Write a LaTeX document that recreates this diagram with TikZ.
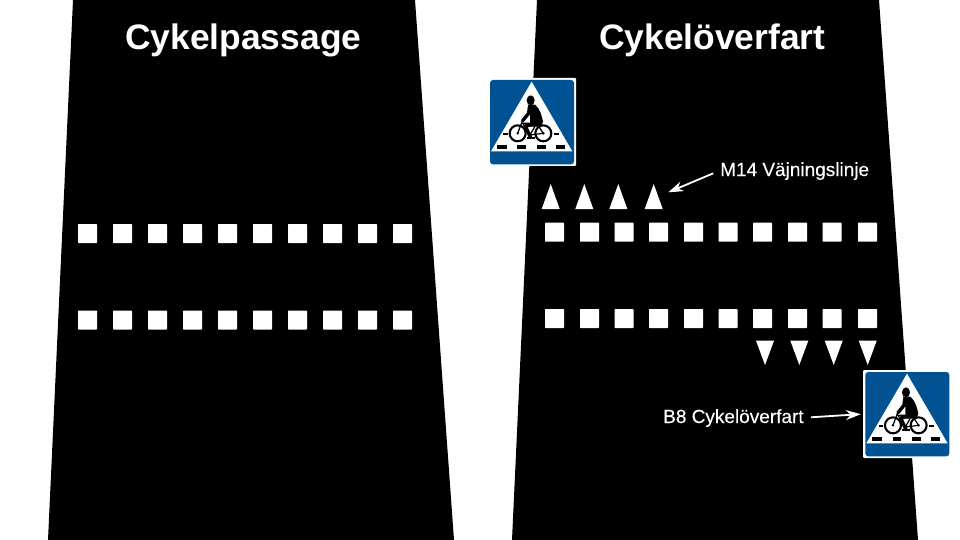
\documentclass[tikz,border=0pt]{standalone}
\usepackage{fontspec}
\setmainfont{Liberation Sans}
\newfontfamily\labelfont[FakeBold=0.25]{Liberation Sans}
\usetikzlibrary{arrows.meta}
\definecolor{signblue}{RGB}{0,82,147}
\tikzset{
  road/.style={fill=black,draw=none},
  stud/.style={fill=white,draw=none,rounded corners=0.6pt},
  tooth/.style={fill=white,draw=none},
  titletext/.style={text=white,font=\bfseries\fontsize{35.4}{36}\selectfont,anchor=base west,inner sep=0pt},
  labeltext/.style={text=white,font=\labelfont\fontsize{19}{19}\selectfont,anchor=base west,inner sep=0pt},
  pointer/.style={draw=white,line width=1.8pt,-{Stealth[length=15pt,width=10pt]}},
  signbox/.style={fill=white,draw=none,minimum width=88pt,minimum height=88pt,inner sep=0pt,rounded corners=1pt},
  signface/.style={fill=signblue,draw=none,rounded corners=3pt},
  signtri/.style={fill=white,draw=none},
  signdash/.style={fill=black,draw=none},
  wheel/.style={draw=black,line width=2.1pt,fill=none},
  frametube/.style={draw=black,line width=1.2pt},
  limb/.style={draw=black,line width=3.4pt,line cap=round,line join=round,fill=none},
}
\newcommand{\cyclesign}[2]{%
  \begin{scope}[shift={(#1,#2)},x=0.33333pt,y=-0.33333pt]
    \path[signface] (30,30) rectangle (282,283);
    \path[signtri] (155,35) -- (277,244) -- (33,244) -- cycle;
    \foreach \xa/\xb in {50/80,112/138,170/197,228/255}
      \path[signdash] (\xa,226) rectangle (\xb,236);
    \foreach \xa/\xb in {70/84,222/236}
      \path[signdash] (\xa,189) rectangle (\xb,195);
    \draw[wheel] (113,190) circle (24);
    \draw[wheel] (190,190) circle (24);
    \fill[black] (113,190) circle (4);
    \fill[black] (190,190) circle (4);
    \draw[frametube] (113,190) -- (128,150) (128,160) -- (150,195) -- (190,190) -- (170,160) -- cycle (150,195) -- (170,160);
    \fill[black] (152,91) ellipse (12 and 15);
    \fill[black] (143,104) -- (165,104) .. controls (180,115) and (186,140) .. (189,155) -- (184,170) -- (150,170) -- (150,135) -- cycle;
    \draw[limb] (148,112) -- (146,130) -- (128,152);
    \draw[limb] (172,160) -- (136,168) -- (152,203);
    \path[signdash] (140,202) rectangle (164,208);
  \end{scope}}
\begin{document}
\begin{tikzpicture}[x=1pt,y=-1pt]
  \useasboundingbox (0,0) rectangle (960,540);
  \fill[white] (0,0) rectangle (960,540);
  \path[road] (73,0) -- (415,0) -- (454,540) -- (48,540) -- cycle;
  \path[road] (537,0) -- (879,0) -- (918,540) -- (512,540) -- cycle;
  % left studs
  \foreach \x in {78,113,148,183,218,253,288,323,358,393}{
    \path[stud] (\x,224) rectangle ++(19,19);
    \path[stud] (\x,310.5) rectangle ++(19,19);
  }
  % right studs
  \foreach \x in {545,580,614.5,649,684,718.5,753,788,822.5,858}{
    \path[stud] (\x,222.7) rectangle ++(19,19);
    \path[stud] (\x,309) rectangle ++(19,19);
  }
  % give-way teeth
  \foreach \x in {550.7,584.3,618.3,653.7}
    \path[tooth] (\x,184) -- (\x+9,209) -- (\x-9,209) -- cycle;
  \foreach \x in {765,799.3,833.7,867.7}
    \path[tooth] (\x-9,340.7) -- (\x+9,340.7) -- (\x,365) -- cycle;
  % titles
  \node[titletext] (title1) at (125,50) {Cykelpassage};
  \node[titletext] (title2) at (599,50) {Cykelöverfart};
  % signs
  \node[signbox] (sign1) at (532,122) {};
  \cyclesign{480}{70}
  \node[signbox] (sign2) at (907,414) {};
  \cyclesign{855.3}{362}
  % labels
  \node[labeltext] (m14) at (720,176) {M14 Väjningslinje};
  \node[labeltext] (b8) at (663,423) {B8 Cykelöverfart};
  \coordinate (m14from) at (713.3,173.3);
  \coordinate (m14tip) at (668.3,192.3);
  \coordinate (b8from) at (811,417.3);
  \draw[pointer] (m14from) -- (m14tip);
  \draw[pointer,shorten >=2pt] (b8from) -- (sign2.west);
\end{tikzpicture}
\end{document}
